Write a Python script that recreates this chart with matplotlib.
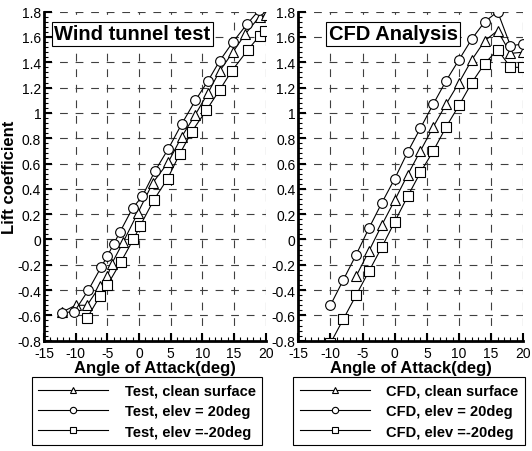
import numpy as np
import matplotlib
matplotlib.use('Agg')
import matplotlib.pyplot as plt
from matplotlib.ticker import MultipleLocator, StrMethodFormatter

plt.rcParams['font.family'] = ['Liberation Sans', 'DejaVu Sans']
plt.rcParams['axes.unicode_minus'] = False

# wind tunnel test data
wt_clean_x = [-12.2, -10, -8.2, -6.2, -5, -4.3, -2.5, -0.2, 2.2, 4.6, 6.7, 8.8, 10.9, 12.7, 14.8, 16.7, 19.0, 20]
wt_clean_y = [-0.575, -0.52, -0.52, -0.37, -0.29, -0.19, -0.02, 0.21, 0.45, 0.61, 0.81, 0.98, 1.16, 1.33, 1.48, 1.62, 1.76, 1.77]
wt_up_x = [-12.2, -10.2, -8, -6, -5, -4, -3, -1, 0.5, 2.5, 4.6, 6.7, 8.9, 10.9, 12.7, 14.8, 17.0, 18.9]
wt_up_y = [-0.58, -0.57, -0.40, -0.22, -0.13, -0.035, 0.06, 0.25, 0.34, 0.54, 0.715, 0.91, 1.10, 1.255, 1.41, 1.56, 1.70, 1.81]
wt_dn_x = [-8.2, -6.2, -5, -2.9, -0.9, 0.2, 2.3, 4.5, 6.4, 8.3, 10.6, 12.7, 14.6, 17.2, 19.0, 19.8]
wt_dn_y = [-0.62, -0.45, -0.36, -0.18, 0.0, 0.11, 0.31, 0.48, 0.675, 0.85, 1.02, 1.18, 1.33, 1.50, 1.61, 1.645]

# CFD data
cfd_clean_x = [-6, -4, -2, 0, 2, 4, 6, 8, 10, 12, 14, 16, 18, 20]
cfd_clean_y = [-0.29, -0.09, 0.115, 0.31, 0.51, 0.70, 0.89, 1.07, 1.24, 1.42, 1.57, 1.65, 1.47, 1.48]
cfd_up_x = [-10, -8, -6, -4, -2, 0, 2, 4, 6, 8, 10, 12, 14, 16, 18, 20]
cfd_up_y = [-0.52, -0.32, -0.12, 0.09, 0.29, 0.48, 0.69, 0.88, 1.07, 1.255, 1.42, 1.585, 1.72, 1.80, 1.53, 1.545]
cfd_dn_x = [-10, -8, -6, -4, -2, 0, 2, 4, 6, 8, 10, 12, 14, 16, 18, 20]
cfd_dn_y = [-0.82, -0.63, -0.44, -0.25, -0.06, 0.14, 0.34, 0.53, 0.70, 0.89, 1.06, 1.24, 1.39, 1.50, 1.36, 1.36]

fig = plt.figure(figsize=(5.32, 4.52), dpi=100)
ax1 = fig.add_axes([0.0827, 0.244, 0.417, 0.728])
ax2 = fig.add_axes([0.5607, 0.244, 0.423, 0.728])

mk = dict(color='black', lw=0.8, markerfacecolor='white', markeredgecolor='black',
          markersize=7, markeredgewidth=0.8, clip_on=True)


def style_axes(ax, title, tx):
    ax.set_xlim(-15, 20)
    ax.set_ylim(-0.8, 1.8)
    ax.xaxis.set_major_locator(MultipleLocator(5))
    ax.xaxis.set_minor_locator(MultipleLocator(1))
    ax.yaxis.set_major_locator(MultipleLocator(0.2))
    ax.yaxis.set_minor_locator(MultipleLocator(0.04))
    ax.xaxis.set_major_formatter(StrMethodFormatter('{x:g}'))
    ax.yaxis.set_major_formatter(StrMethodFormatter('{x:g}'))
    ax.spines['top'].set_visible(False)
    ax.spines['right'].set_visible(False)
    ax.spines['left'].set_linewidth(2)
    ax.spines['bottom'].set_linewidth(2)
    ax.tick_params(which='major', direction='in', length=6, width=1.5, labelsize=10, pad=2)
    ax.tick_params(axis='x', which='major', pad=4)
    ax.tick_params(which='minor', direction='in', length=3, width=0.8)
    ax.grid(True, which='major', color='0.25', lw=0.8, linestyle=(0, (7, 7)))
    ax.set_xlabel('Angle of Attack(deg)', fontsize=12, fontweight='bold', labelpad=0)
    ax.text(tx, 0.962, title, transform=ax.transAxes, fontsize=14.5, fontweight='bold',
            va='top', ha='left', zorder=5,
            bbox=dict(boxstyle='square,pad=0.12', facecolor='white', edgecolor='black', lw=0.8))


ax1.plot(wt_clean_x, wt_clean_y, marker='^', label='Test, clean surface', **mk)
ax1.plot(wt_up_x, wt_up_y, marker='o', label='Test, elev = 20deg', **mk)
ax1.plot(wt_dn_x, wt_dn_y, marker='s', label='Test, elev =-20deg', **mk)
style_axes(ax1, 'Wind tunnel test', 0.045)
ax1.set_ylabel('Lift coefficient', fontsize=12, fontweight='bold')
ax1.yaxis.set_label_coords(-0.12, 0.5)

ax2.plot(cfd_clean_x, cfd_clean_y, marker='^', label='CFD, clean surface', **mk)
ax2.plot(cfd_up_x, cfd_up_y, marker='o', label='CFD, elev = 20deg', **mk)
ax2.plot(cfd_dn_x, cfd_dn_y, marker='s', label='CFD, elev =-20deg', **mk)
style_axes(ax2, 'CFD Analysis', 0.135)

leg_kw = dict(loc='lower left', numpoints=1, handlelength=4.8, handletextpad=1.1,
              fancybox=False, edgecolor='black', framealpha=1, markerscale=0.65,
              prop={'weight': 'bold', 'size': 10.5}, borderpad=0.45, labelspacing=0.44,
              borderaxespad=0)
l1 = fig.legend(*ax1.get_legend_handles_labels(), bbox_to_anchor=(0.06, 0.013), **leg_kw)
l2 = fig.legend(*ax2.get_legend_handles_labels(), bbox_to_anchor=(0.551, 0.013), **leg_kw)
for l in (l1, l2):
    l.get_frame().set_linewidth(0.8)

fig.savefig('out.png', dpi=100)
